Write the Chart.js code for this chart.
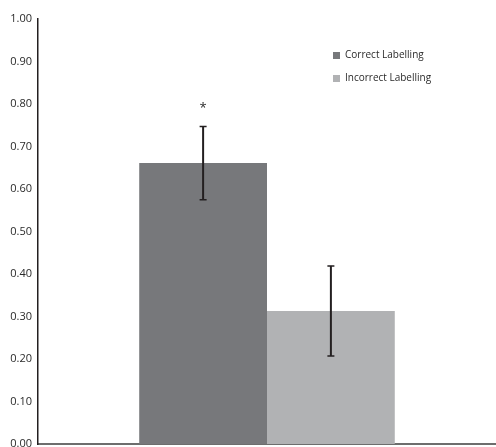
<!DOCTYPE html>
<html>
<head>
<meta charset="utf-8">
<script src="https://cdn.jsdelivr.net/npm/chart.js@4/dist/chart.umd.min.js"></script>
<style>
html,body{margin:0;padding:0;background:#fff;}
#wrap{width:496px;height:447px;}
</style>
</head>
<body>
<div id="wrap"><canvas id="c" width="496" height="447"></canvas></div>
<script>
const categories = [''];
const seriesNames = ['Correct Labelling', 'Incorrect Labelling'];
const correctValues = [0.661];
const incorrectValues = [0.313];
const correctErr = [0.086];
const incorrectErr = [0.106];
const significance = ['*', ''];
const yTicks = [0, 0.1, 0.2, 0.3, 0.4, 0.5, 0.6, 0.7, 0.8, 0.9, 1.0];

const FONT = '"Open Sans", "DejaVu Sans", sans-serif';
const errors = [correctErr, incorrectErr];

const overlay = {
  id: 'overlay',
  afterDatasetsDraw(chart) {
    const ctx = chart.ctx;
    const y = chart.scales.y;
    ctx.save();
    chart.data.datasets.forEach((ds, di) => {
      const meta = chart.getDatasetMeta(di);
      meta.data.forEach((bar, i) => {
        const v = ds.data[i];
        const e = errors[di][i];
        const yt = y.getPixelForValue(v + e);
        const yb = y.getPixelForValue(v - e);
        const x = bar.x;
        ctx.strokeStyle = '#231f20';
        ctx.lineWidth = 2;
        ctx.beginPath();
        ctx.moveTo(x, yt); ctx.lineTo(x, yb);
        ctx.stroke();
        ctx.lineWidth = 1.5;
        ctx.beginPath();
        ctx.moveTo(x - 3.5, yt); ctx.lineTo(x + 3.5, yt);
        ctx.moveTo(x - 3.5, yb); ctx.lineTo(x + 3.5, yb);
        ctx.stroke();
        if (significance[di]) {
          ctx.fillStyle = '#2a2a2a';
          ctx.font = '13px ' + FONT;
          ctx.textAlign = 'center';
          ctx.textBaseline = 'middle';
          ctx.fillText(significance[di], x, yt - 18);
        }
      });
    });
    // legend
    const lx = 333, ly0 = 55, gap = 23;
    chart.data.datasets.forEach((ds, di) => {
      const yy = ly0 + di * gap;
      ctx.fillStyle = ds.backgroundColor;
      ctx.fillRect(lx, yy - 3, 7, 7);
      ctx.fillStyle = '#2a2a2a';
      ctx.font = '10px ' + FONT;
      ctx.textAlign = 'left';
      ctx.textBaseline = 'middle';
      ctx.fillText(ds.label, lx + 12, yy + 0.5);
    });
    ctx.restore();
  }
};

new Chart(document.getElementById('c'), {
  type: 'bar',
  data: {
    labels: categories,
    datasets: [
      { label: seriesNames[0], data: correctValues, backgroundColor: '#77787b', borderWidth: 0 },
      { label: seriesNames[1], data: incorrectValues, backgroundColor: '#b1b2b4', borderWidth: 0 }
    ]
  },
  options: {
    responsive: false,
    animation: false,
    devicePixelRatio: 1,
    layout: { padding: { top: 19, right: -4, left: 0, bottom: 0 } },
    datasets: { bar: { categoryPercentage: 0.558, barPercentage: 1.0 } },
    plugins: { legend: { display: false }, tooltip: { enabled: false } },
    scales: {
      x: {
        grid: { display: false, drawTicks: false },
        ticks: { display: false, padding: 0 },
        border: { display: true, color: '#6d6d6d', width: 2 },
        afterFit(s) { s.height = 3; s.paddingLeft = 0; s.paddingRight = 0; s.paddingTop = 0; s.paddingBottom = 0; }
      },
      y: {
        min: 0, max: 1,
        afterBuildTicks(s) { s.ticks = yTicks.map(v => ({ value: v })); },
        grid: { display: false, drawTicks: false },
        border: { display: true, color: '#231f20', width: 1.5 },
        ticks: {
          padding: 6,
          color: '#2a2a2a',
          font: { family: FONT, size: 11 },
          callback: v => Number(v).toFixed(2)
        },
        afterFit(s) { s.width = 38; s.paddingTop = 0; s.paddingBottom = 0; }
      }
    }
  },
  plugins: [overlay]
});
</script>
</body>
</html>
